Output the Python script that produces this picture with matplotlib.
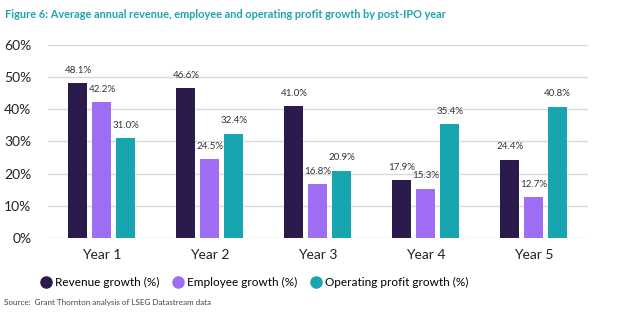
import numpy as np
import matplotlib.pyplot as plt

years = ['Year 1', 'Year 2', 'Year 3', 'Year 4', 'Year 5']
revenue = [48.1, 46.6, 41.0, 17.9, 24.4]
employee = [42.2, 24.5, 16.8, 15.3, 12.7]
op_profit = [31.0, 32.4, 20.9, 35.4, 40.8]
series_names = ['Revenue growth (%)', 'Employee growth (%)', 'Operating profit growth (%)']
colors = ['#2b1a4c', '#9f6cf4', '#17a5b0']

plt.rcParams['font.family'] = ['Lato', 'DejaVu Sans']

fig = plt.figure(figsize=(6.2, 3.23), dpi=100)
ax = fig.add_axes([0.0774, 0.263, 0.8706, 0.598])

x = np.arange(len(years))
width = 0.176
step = 0.222
for i, (vals, name, col) in enumerate(zip([revenue, employee, op_profit], series_names, colors)):
    pos = x + (i - 1) * step
    ax.bar(pos, vals, width, color=col, label=name, zorder=3)
    for p, v in zip(pos, vals):
        ax.text(p, v + 2.6, f'{v:.1f}%', ha='center', va='bottom', fontsize=7, color='#333333')

ax.set_xlim(-0.5, 4.5)
ax.set_ylim(0, 60)
ax.set_yticks(range(0, 61, 10))
ax.set_yticklabels([f'{t}%' for t in range(0, 61, 10)])
ax.set_xticks(x)
ax.set_xticklabels(years)
ax.tick_params(axis='both', length=0, labelsize=10, colors='#222222')
ax.tick_params(axis='y', pad=12)
ax.tick_params(axis='x', pad=8)
ax.grid(axis='y', color='#d9d9d9', linewidth=1, zorder=0)
for s in ax.spines.values():
    s.set_visible(False)

handles = [plt.Line2D([], [], marker='o', linestyle='', markersize=8, color=c) for c in colors]
fig.legend(handles, series_names, loc='center', bbox_to_anchor=(0.41, 0.125), ncol=3,
           frameon=False, fontsize=8.5, handletextpad=0.25, columnspacing=1.1,
           handlelength=1.0)

fig.text(0.008, 0.955, 'Figure 6: Average annual revenue, employee and operating profit growth by post-IPO year',
         fontsize=7.9, fontweight='bold', color='#1fa3ae', va='center')
fig.text(0.006, 0.065, 'Source:  Grant Thornton analysis of LSEG Datastream data',
         fontsize=5.8, color='#444444', va='center')

fig.savefig('out.png', dpi=100)
